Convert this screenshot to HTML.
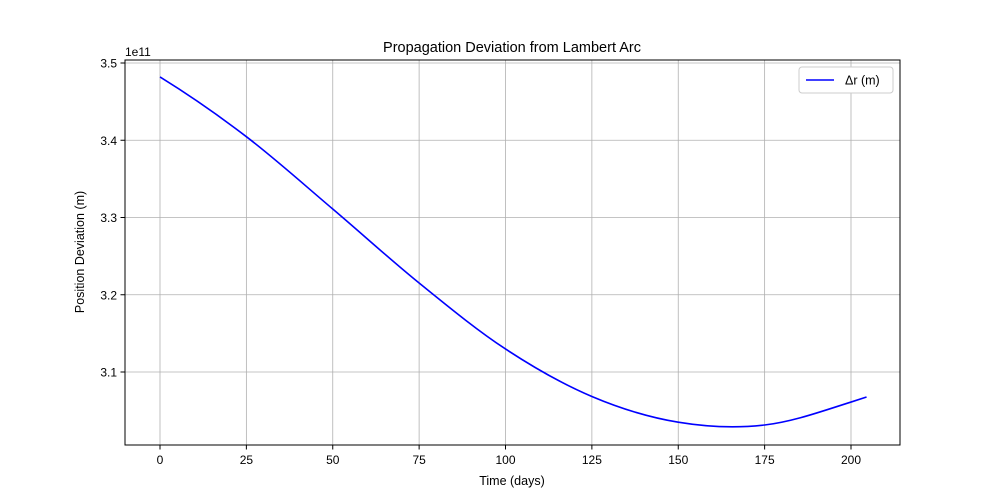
<!DOCTYPE html>
<html><head><meta charset="utf-8"><style>
body{margin:0;background:#fff;}
svg{display:block;font-family:"Liberation Sans","DejaVu Sans",sans-serif;}
</style></head><body>
<svg id="chart" width="1000" height="500">
<rect width="1000" height="500" fill="#fff"/>
<text x="512" y="52" text-anchor="middle" font-size="14.5">Propagation Deviation from Lambert Arc</text>
<g id="grid"></g>
<g id="ticks" font-size="12"></g>
<path id="line" fill="none" stroke="#0000ff" stroke-width="1.6"/>
<rect x="125" y="60" width="775" height="385" fill="none" stroke="#000" stroke-width="1"/>
<text x="125" y="56" font-size="12">1e11</text>
<text x="512" y="485" text-anchor="middle" font-size="12.5">Time (days)</text>
<text transform="translate(84,252) rotate(-90)" text-anchor="middle" font-size="12.5">Position Deviation (m)</text>
<g>
<rect x="799" y="67" width="94" height="26" rx="3" fill="#fff" stroke="#ccc"/>
<line x1="806" y1="80" x2="834" y2="80" stroke="#0000ff" stroke-width="1.6"/>
<text x="845" y="84.5" font-size="12.5">Δr (m)</text>
</g>
</svg>
<script>
const days=[0,25,50,75,100,125,150,175,200,204.5];
const devs=[3.4819,3.4046,3.311,3.2152,3.1298,3.0683,3.035,3.0314,3.0611,3.0676];
const xTicks=[0,25,50,75,100,125,150,175,200];
const yTicks=[3.1,3.2,3.3,3.4,3.5];
const xs=d=>160+(d-0)*3.455;
const ys=v=>63+(3.5-v)*772.5;
const NS="http://www.w3.org/2000/svg";
const g=document.getElementById('grid'),t=document.getElementById('ticks');
function mk(tag,attrs,parent){const e=document.createElementNS(NS,tag);for(const k in attrs)e.setAttribute(k,attrs[k]);parent.appendChild(e);return e;}
xTicks.forEach(v=>{const x=xs(v);
const l=mk('line',{x1:x,x2:x,y1:60,y2:445,stroke:'#b0b0b0','stroke-width':0.8},g);


mk('line',{x1:x,x2:x,y1:445,y2:449.5,stroke:'#000'},t);
const tx=mk('text',{x:x,y:464,'text-anchor':'middle'},t);tx.textContent=v;

});
yTicks.forEach(v=>{const y=ys(v);
const l=mk('line',{x1:125,x2:900,y1:y,y2:y,stroke:'#b0b0b0','stroke-width':0.8},g);


mk('line',{x1:120.5,x2:125,y1:y,y2:y,stroke:'#000'},t);
const tx=mk('text',{x:117,y:y+4.5,'text-anchor':'end'},t);tx.textContent=v.toFixed(1);

});
const P=days.map((d,i)=>[xs(d),ys(devs[i])]);
const n=P.length;
const s=[];for(let i=0;i<n-1;i++)s.push((P[i+1][1]-P[i][1])/(P[i+1][0]-P[i][0]));
const m=P.map((p,i)=>{
 if(i===0)return s[0]-(s[1]-s[0])*(P[1][0]-P[0][0])/(P[2][0]-P[0][0]);
 if(i===n-1)return s[n-2]+(s[n-2]-s[n-3])*(P[n-1][0]-P[n-2][0])/(P[n-1][0]-P[n-3][0]);
 const h0=P[i][0]-P[i-1][0],h1=P[i+1][0]-P[i][0];
 return (s[i-1]*h1+s[i]*h0)/(h0+h1);});
let dstr='M'+P[0][0]+','+P[0][1];
for(let i=0;i<n-1;i++){const p1=P[i],p2=P[i+1],h=(p2[0]-p1[0])/3;
dstr+=` C${p1[0]+h},${p1[1]+m[i]*h} ${p2[0]-h},${p2[1]-m[i+1]*h} ${p2[0]},${p2[1]}`;}
document.getElementById('line').setAttribute('d',dstr);
</script>
</body></html>
